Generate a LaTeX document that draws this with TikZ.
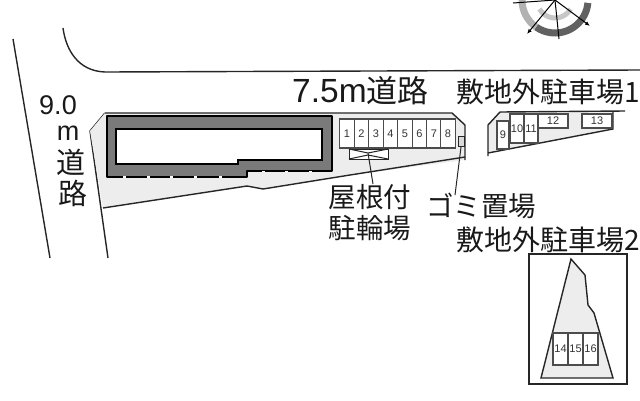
\documentclass[tikz,border=0pt]{standalone}
\usepackage{fontspec}
\usetikzlibrary{arrows.meta}
\setmainfont{Liberation Sans}
\newfontfamily\cjk{Noto Sans CJK JP}
\begin{document}
\begin{tikzpicture}[x=1pt,y=-1pt,
  thinl/.style={draw=black!85,line width=1pt},
  med/.style={draw=black!85,line width=1.4pt},
  lot/.style={fill=black!7,draw=none},
  slot/.style={draw=black!70,line width=1.3pt,fill=white,font=\fontsize{11}{12}\selectfont,inner sep=0pt,anchor=center,text=black!80},
  lab/.style={font=\cjk\fontsize{27.5}{29}\selectfont,inner sep=0pt,text=black!90},
  rnum/.style={font=\fontsize{27}{28}\selectfont,inner sep=0pt,text=black!90}]
\useasboundingbox (0,0) rectangle (640,400);
\clip (0,0) rectangle (640,400);
% compass
\coordinate (cc) at (555,0);
\draw[black!62,line width=7pt] ([shift={(5:33)}]cc) arc (5:125:33);
\draw[black!30,line width=7pt] ([shift={(125:33)}]cc) arc (125:180:33);
\draw[black!22,line width=5pt] ([shift={(30:18)}]cc) arc (30:150:18);
\coordinate (n1) at (527,34);
\coordinate (n2) at (559,39);
\coordinate (n3) at (590,26);
\coordinate (n4) at (513,3);
\draw[black,line width=1pt,-{Latex[length=5pt,width=4pt]}] (cc) -- (n1);
\draw[black,line width=1pt] (cc) -- (n2);
\draw[black,line width=1pt,-{Latex[length=5pt,width=4pt]}] (cc) -- (n3);
\draw[black,line width=1pt] (cc) -- (n4);
% roads
\draw[med] (63,28) .. controls (66,50) and (78,71) .. (105,72) -- (640,70);
\draw[med] (13,39) -- (50,258);
\draw[med] (105,113) -- (90,131) -- (108,258);
% main lot
\path[lot] (105,113) -- (452,113) -- (465,125) -- (465,160) -- (350,175) -- (263,189) -- (247,186) -- (103,208) -- (90,131) -- cycle;
\draw[med] (105,113) -- (452,113) -- (465,125) -- (465,160);
\draw[med] (465,157) -- (350,175) -- (263,189) -- (247,186) -- (103,208);
% building
\draw[black,fill=black!52,line width=2pt,line join=round] (107,116) -- (332,116) -- (332,171) -- (247,171) -- (247,177) -- (107,177) -- cycle;
\draw[black,fill=white,line width=1.5pt] (116,129) -- (322,129) -- (322,160) -- (238,160) -- (238,164) -- (116,164) -- cycle;
\foreach \x in {123,147,170,194,219} \fill[white] (\x,176) rectangle +(3,2);
\foreach \x in {262,285,309} \fill[white] (\x,170.5) rectangle +(3,1.5);
% parking 1-8
\foreach \cx/\n in {347/1,361.5/2,376/3,390.5/4,405/5,419.5/6,434/7,448/8}
  \node[slot,minimum width=14.5pt,minimum height=29pt] (p\n) at (\cx,133.5) {\n};
% shelter
\draw[thinl,fill=white] (349,149) rectangle (388,159);
\coordinate (sa) at (368,153);
\draw[thinl] (349,149) -- (368,153) -- (388,149) (349,159) -- (368,155) -- (388,159);
\coordinate (sb) at (373,184);
\draw[thinl] (sa) -- (sb);
% trash
\node[draw=black!85,line width=1pt,fill=black!15,minimum width=6pt,minimum height=10pt,inner sep=0pt] (tb) at (461,141.5) {};
\coordinate (tc) at (455,195);
\draw[thinl] (tb.south) -- (tc);
% lot 9-13
\path[lot] (500,112) -- (613,112) -- (613,129) -- (488,153) -- (488,125) -- cycle;
\draw[med] (625,111) -- (500,112) -- (488,125) -- (488,156);
\draw[med] (488,153) -- (613,129) -- (613,112);
\node[slot,minimum width=12pt,minimum height=28pt] (s9) at (503,135) {9};
\node[slot,minimum width=14pt,minimum height=29pt] (s10) at (517,128.5) {10};
\node[slot,minimum width=14pt,minimum height=29pt] (s11) at (531,128.5) {11};
\node[slot,minimum width=30pt,minimum height=14pt] (s12) at (553,121) {12};
\node[slot,minimum width=30pt,minimum height=14pt] (s13) at (597,121) {13};
% lot 14-16
\draw[med,fill=white] (529,254) rectangle (627,384);
\draw[med,fill=black!7] (571,259) -- (585,275) -- (588,305) -- (594,313) -- (613,378) -- (541,378) -- cycle;
\node[slot,minimum width=15pt,minimum height=32pt] (s14) at (560.5,349) {14};
\node[slot,minimum width=15pt,minimum height=32pt] (s15) at (575.5,349) {15};
\node[slot,minimum width=15pt,minimum height=32pt] (s16) at (590.5,349) {16};
% labels
\node[anchor=west,inner sep=0pt,text=black!90,font=\fontsize{33.5}{34}\selectfont] (t1) at (292,91) {7.5m\cjk\fontsize{31}{32}\selectfont 道路};
\node[lab,anchor=west,font=\cjk\fontsize{28}{30}\selectfont] (t2) at (456,92) {敷地外駐車場1};
\node[lab,anchor=west,font=\cjk\fontsize{28}{30}\selectfont] (t3) at (456,240) {敷地外駐車場2};
\node[rnum] (r1) at (58,105) {9.0};
\node[rnum] (r2) at (68,133) {m};
\node[lab,font=\cjk\fontsize{29}{32}\selectfont] (r3) at (71,162) {道};
\node[lab,font=\cjk\fontsize{29}{32}\selectfont] (r4) at (73,193) {路};
\node[lab] (b1) at (370,197) {屋根付};
\node[lab] (b2) at (370,228) {駐輪場};
\node[lab,anchor=west] (g1) at (426,206) {ゴミ置場};
\end{tikzpicture}
\end{document}
